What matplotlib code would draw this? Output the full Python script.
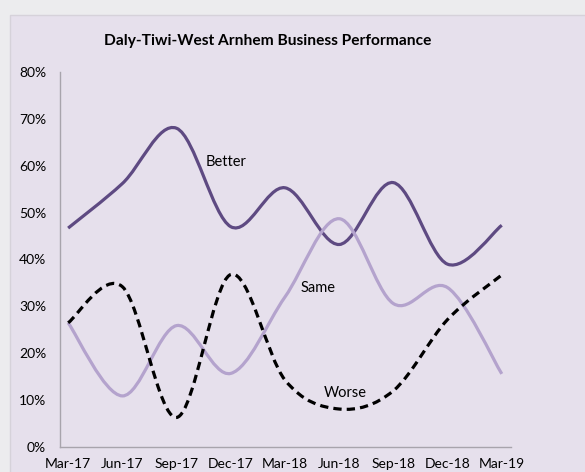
import numpy as np
import matplotlib
matplotlib.use("Agg")
import matplotlib.pyplot as plt
from matplotlib.path import Path
from matplotlib.patches import PathPatch, Rectangle
from matplotlib.ticker import PercentFormatter

plt.rcParams['font.family'] = ['Lato', 'DejaVu Sans']

QUARTERS = ["Mar-17", "Jun-17", "Sep-17", "Dec-17", "Mar-18",
            "Jun-18", "Sep-18", "Dec-18", "Mar-19"]
BETTER = [0.467, 0.562, 0.680, 0.470, 0.553, 0.432, 0.564, 0.390, 0.473]
SAME = [0.265, 0.109, 0.259, 0.157, 0.320, 0.487, 0.306, 0.340, 0.156]
WORSE = [0.265, 0.342, 0.063, 0.368, 0.143, 0.081, 0.120, 0.272, 0.367]

BG_OUTER = "#ECECEE"
BG_PANEL = "#E6E0EC"


def smooth_path(ys):
    # excel-style smoothed line: cubic bezier through each point
    xs = np.arange(len(ys), dtype=float)
    ys = np.asarray(ys, dtype=float)
    pts = np.column_stack([xs, ys])
    verts = [pts[0]]
    codes = [Path.MOVETO]
    n = len(pts)
    for i in range(n - 1):
        p0 = pts[i - 1] if i > 0 else pts[i]
        p1 = pts[i]
        p2 = pts[i + 1]
        p3 = pts[i + 2] if i + 2 < n else pts[i + 1]
        c1 = p1 + (p2 - p0) / 6.0
        c2 = p2 - (p3 - p1) / 6.0
        verts += [c1, c2, p2]
        codes += [Path.CURVE4] * 3
    return Path(verts, codes)


fig = plt.figure(figsize=(5.85, 4.72), dpi=100, facecolor=BG_OUTER)
fig.patches.append(Rectangle((10 / 585, -0.1), 1.0, 1 - 15 / 472 + 0.1,
                             transform=fig.transFigure, facecolor=BG_PANEL,
                             edgecolor="#D6D2DA", linewidth=1.0, zorder=-5))

ax = fig.add_axes([60 / 585, 1 - 447 / 472, 451 / 585, 375 / 472])
ax.set_zorder(2)
ax.patch.set_visible(False)

series = [
    (BETTER, "#5E4A82", "-"),
    (SAME, "#B4A3CD", "-"),
    (WORSE, "#000000", (0, (2.6, 1.6))),
]
for vals, col, ls in series:
    ax.add_patch(PathPatch(smooth_path(vals), facecolor="none", edgecolor=col,
                           linewidth=2.3, linestyle=ls, capstyle="butt"))

ax.text(2.91, 0.608, "Better", fontsize=10.5, ha="center", va="center")
ax.text(4.61, 0.339, "Same", fontsize=10.5, ha="center", va="center")
ax.text(5.12, 0.115, "Worse", fontsize=10.5, ha="center", va="center")

ax.set_xlim(-0.15, 8.17)
ax.set_ylim(0, 0.8)
ax.set_xticks(range(len(QUARTERS)))
ax.set_xticklabels(QUARTERS)
ax.set_yticks(np.arange(0, 0.81, 0.1))
ax.yaxis.set_major_formatter(PercentFormatter(1.0, decimals=0))
ax.tick_params(length=0, labelsize=10, colors="#000000")
ax.tick_params(axis="y", pad=10)
ax.tick_params(axis="x", pad=8)
for s in ["top", "right"]:
    ax.spines[s].set_visible(False)
for s in ["left", "bottom"]:
    ax.spines[s].set_color("#A8A4AC")
    ax.spines[s].set_linewidth(1.0)

fig.text(268 / 585, 1 - 41 / 472, "Daly-Tiwi-West Arnhem Business Performance",
         ha="center", va="center", fontsize=11.2, fontweight="bold")

fig.savefig("out.png", dpi=100, facecolor=BG_OUTER)
